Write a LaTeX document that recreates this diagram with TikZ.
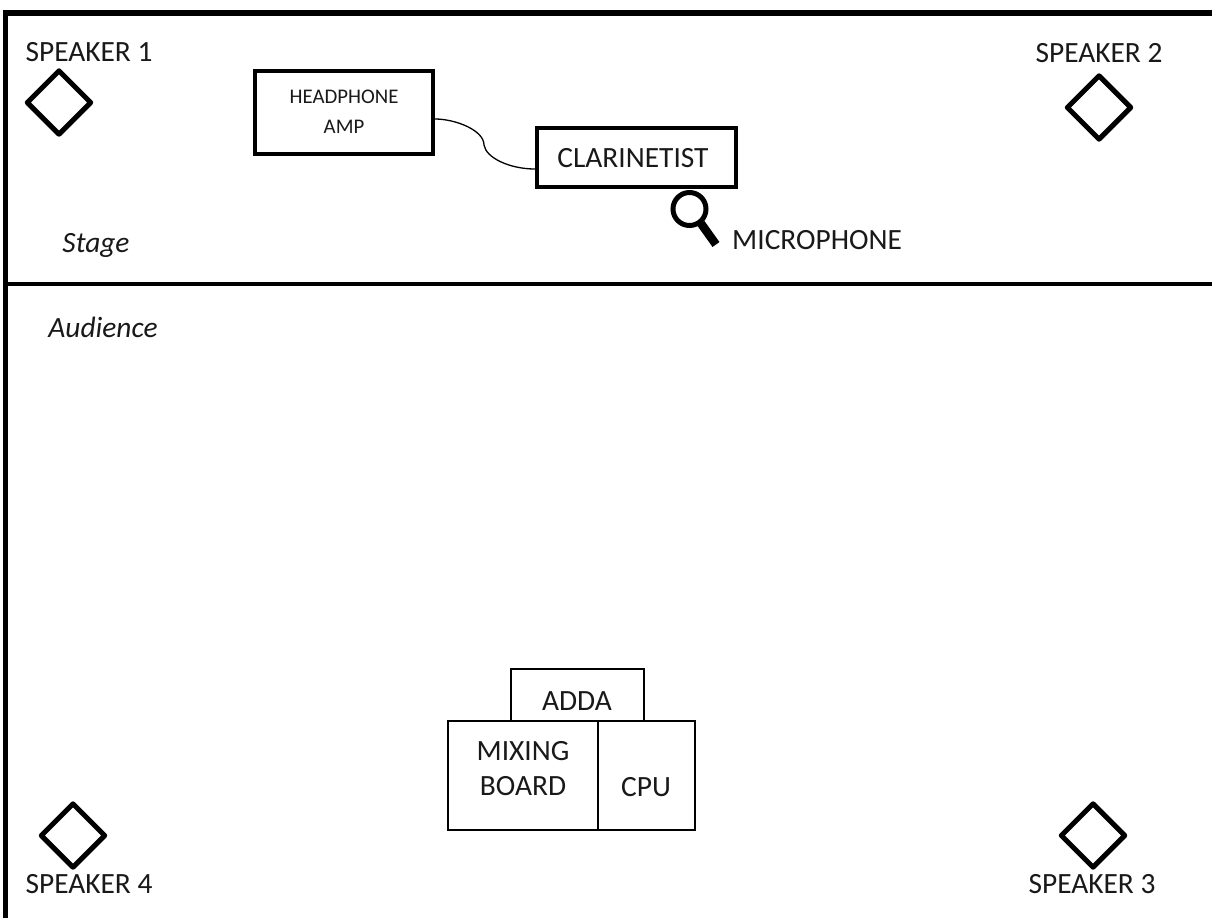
\documentclass[tikz,border=0pt]{standalone}
\usepackage{fontspec}
\setmainfont{Carlito}
\usetikzlibrary{shapes.geometric}
\tikzset{
  txt/.style={inner sep=0pt,font=\fontsize{29.4}{35}\selectfont,align=center,text=black!90},
  small/.style={inner sep=0pt,font=\fontsize{20.8}{30}\selectfont,align=center,text=black!90},
  spk/.style={diamond,draw=black,line width=5pt,line join=round,minimum width=65.5pt,minimum height=65.5pt,inner sep=0pt,aspect=1},
  thickbox/.style={rectangle,draw=black,line width=4pt,inner sep=0pt},
  thinbox/.style={rectangle,draw=black,line width=2pt,inner sep=0pt},
  wall/.style={line width=5.5pt,black},
}
\begin{document}
\begin{tikzpicture}[x=1pt,y=-1pt]
\useasboundingbox (0,0) rectangle (1212,918);
\fill[white] (0,0) rectangle (1212,918);
% frame
\coordinate (fb) at (5.5,918);
\coordinate (fc) at (5.5,13);
\coordinate (fr) at (1212,13);
\coordinate (sl) at (5.5,284);
\coordinate (sr) at (1212,284);
\draw[wall,line join=miter] (fb) -- (fc) -- (fr);
\draw[line width=4pt,black] (sl) -- (sr);
% speakers
\node[spk] (s1) at (59,102.5) {};
\node[spk] (s2) at (1099,107.5) {};
\node[spk] (s3) at (1093,835.5) {};
\node[spk] (s4) at (73,835.5) {};
\node[txt] (t1) at (89,52) {SPEAKER 1};
\node[txt] (t2) at (1099,53) {SPEAKER 2};
\node[txt] (t3) at (1092,884) {SPEAKER 3};
\node[txt] (t4) at (89,884) {SPEAKER 4};
% stage
\node[thickbox,minimum width=178pt,minimum height=83pt] (amp) at (344,112) {};
\node[small] (ampt) at (344,112) {HEADPHONE\\AMP};
\node[thickbox,minimum width=199pt,minimum height=59pt] (cl) at (636.5,157) {};
\node[txt] (clt) at (633,158) {CLARINETIST};
\draw[line width=1.3pt,black] (amp.east |- 0,119) .. controls (455,119) and (484,130) .. (484,145)
   .. controls (486,158) and (510,169) .. (cl.west |- 0,169);
% microphone
\node[circle,draw=black,line width=5pt,minimum size=33pt,inner sep=0pt] (mic) at (689.5,209) {};
\coordinate (micend) at (716,244.5);
\draw[line width=8.5pt,black] (mic) ++(11.5,14.5) -- (micend);
\node[txt,anchor=west] (mict) at (732,240) {MICROPHONE};
\node[txt,anchor=center,font=\fontsize{29.4}{30}\selectfont\itshape] (stage) at (96,245.5) {Stage};
\node[txt,anchor=center,font=\fontsize{29.4}{30}\selectfont\itshape] (aud) at (103,327) {Audience};
% console
\node[thinbox,minimum width=133pt,minimum height=52pt] (adda) at (577.5,695) {};
\node[thinbox,minimum width=150pt,minimum height=109pt] (mix) at (523,775.5) {};
\node[thinbox,minimum width=97pt,minimum height=109pt] (cpu) at (646.5,775.5) {};
\node[txt] (addat) at (577,701) {ADDA};
\node[txt] (mixt) at (523,769) {MIXING\\BOARD};
\node[txt] (cput) at (646,787) {CPU};
\end{tikzpicture}
\end{document}
